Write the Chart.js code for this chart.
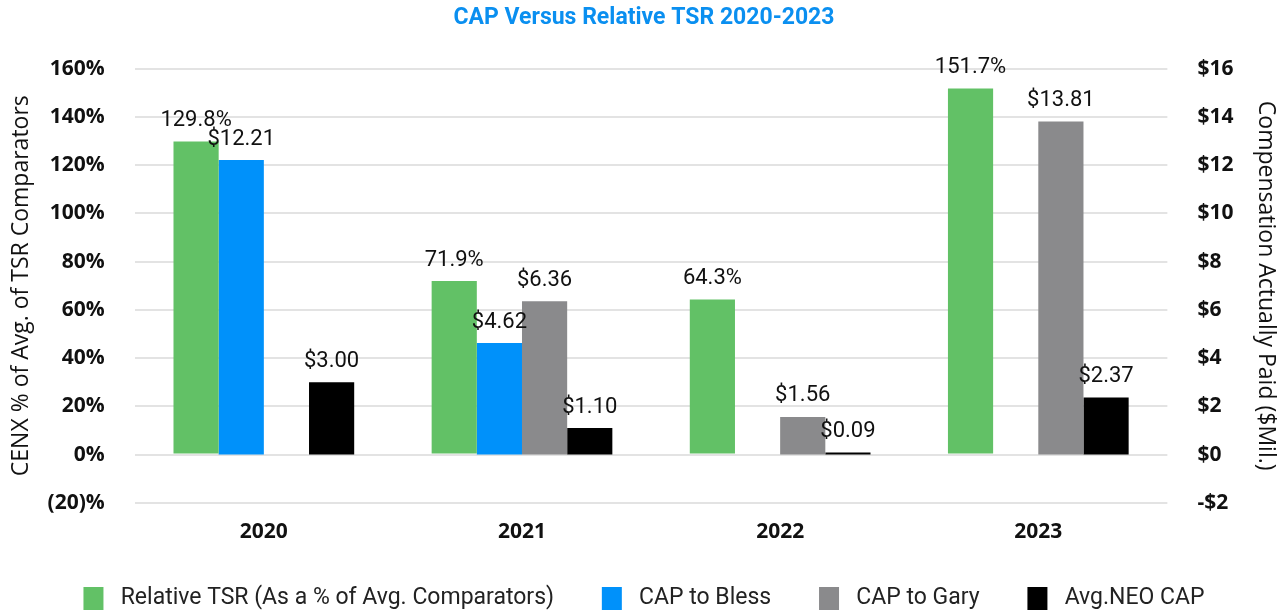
<!DOCTYPE html>
<html>
<head>
<meta charset="utf-8">
<script src="https://cdn.jsdelivr.net/npm/chart.js@4"></script>
<style>
  html, body { margin: 0; padding: 0; background: #fff; }
  #wrap { width: 1288px; height: 614px; }
</style>
</head>
<body>
<div id="wrap"><canvas id="chart"></canvas></div>
<script>
const years = ['2020', '2021', '2022', '2023'];
const relativeTSR = [129.8, 71.9, 64.3, 151.7];   // % of avg comparators (left axis)
const capBless = [12.21, 4.62, null, null];       // $Mil (right axis)
const capGary = [null, 6.36, 1.56, 13.81];
const avgNeoCap = [3.00, 1.10, 0.09, 2.37];

const FONT = 'Roboto, "DejaVu Sans", sans-serif';
const TICK_FONT = '"Open Sans", Roboto, sans-serif';

// draws the value labels above each bar
const barLabels = {
  id: 'barLabels',
  afterDatasetsDraw(chart) {
    const ctx = chart.ctx;
    ctx.save();
    ctx.font = '22px ' + FONT;
    ctx.fillStyle = '#111';
    ctx.textAlign = 'center';
    ctx.textBaseline = 'bottom';
    chart.data.datasets.forEach((ds, i) => {
      const meta = chart.getDatasetMeta(i);
      meta.data.forEach((bar, j) => {
        const v = ds.data[j];
        if (v === null || v === undefined) return;
        const txt = ds.yAxisID === 'y' ? v.toFixed(1) + '%' : '$' + v.toFixed(2);
        ctx.fillText(txt, bar.x, bar.y - 10);
      });
    });
    ctx.restore();
  }
};

new Chart(document.getElementById('chart'), {
  type: 'bar',
  data: {
    labels: years,
    datasets: [
      { label: 'Relative TSR (As a % of Avg. Comparators)', data: relativeTSR, backgroundColor: '#62c166', yAxisID: 'y' },
      { label: 'CAP to Bless', data: capBless, backgroundColor: '#0091fa', yAxisID: 'y2' },
      { label: 'CAP to Gary', data: capGary, backgroundColor: '#8a8a8c', yAxisID: 'y2' },
      { label: 'Avg.NEO CAP', data: avgNeoCap, backgroundColor: '#000000', yAxisID: 'y2' }
    ]
  },
  options: {
    responsive: true,
    maintainAspectRatio: false,
    animation: false,
    datasets: {
      bar: { categoryPercentage: 0.7, barPercentage: 1.0, skipNull: false }
    },
    layout: { padding: { left: 0, right: 0, top: 0, bottom: -6 } },
    plugins: {
      title: {
        display: true,
        text: 'CAP Versus Relative TSR 2020-2023',
        color: '#0a8ff0',
        font: { family: FONT, size: 23, weight: 'bold' },
        padding: { top: 4, bottom: 37 }
      },
      legend: {
        position: 'bottom',
        labels: {
          color: '#222',
          font: { family: FONT, size: 23 },
          boxWidth: 20,
          boxHeight: 23,
          padding: 25,
          // a bit more room around the text (last item needs none after it)
          generateLabels: chart => Chart.defaults.plugins.legend.labels.generateLabels(chart)
            .map((item, i, all) => ({ ...item, text: ' ' + item.text + (i < all.length - 1 ? '    ' : '') }))
        }
      },
      tooltip: { enabled: false }
    },
    scales: {
      x: {
        grid: { display: false, drawTicks: false },
        border: { display: false },
        ticks: { color: '#111', font: { family: TICK_FONT, size: 21, weight: 'bold' }, padding: 17 }
      },
      y: {
        position: 'left',
        min: -20,
        max: 160,
        grid: { color: '#e3e3e3', lineWidth: 2, drawTicks: false },
        border: { display: false },
        ticks: {
          stepSize: 20,
          color: '#111',
          padding: 30,
          font: { family: TICK_FONT, size: 21, weight: 'bold' },
          callback: v => v < 0 ? '(' + (-v) + ')%' : v + '%'
        },
        title: {
          display: true,
          text: 'CENX % of Avg. of TSR Comparators',
          color: '#111',
          font: { family: TICK_FONT, size: 23 },
          padding: { top: 8, bottom: -18 }
        }
      },
      y2: {
        position: 'right',
        min: -2,
        max: 16,
        grid: { display: false },
        border: { display: false },
        ticks: {
          stepSize: 2,
          color: '#111',
          padding: 22,
          font: { family: TICK_FONT, size: 21, weight: 'bold' },
          callback: v => v < 0 ? '-$' + (-v) : '$' + v
        },
        title: {
          display: true,
          text: 'Compensation Actually Paid ($Mil.)',
          color: '#111',
          font: { family: TICK_FONT, size: 23 },
          padding: { top: 9, bottom: -4 }
        }
      }
    }
  },
  plugins: [barLabels]
});
</script>
</body>
</html>
